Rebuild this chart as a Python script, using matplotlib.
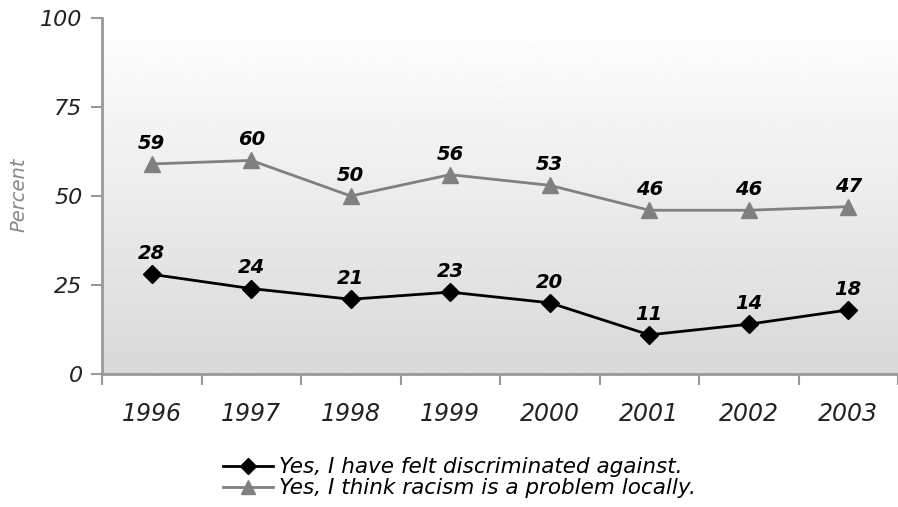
import numpy as np
import matplotlib.pyplot as plt
from matplotlib.lines import Line2D

years = ["1996", "1997", "1998", "1999", "2000", "2001", "2002", "2003"]
discriminated = [28, 24, 21, 23, 20, 11, 14, 18]
racism_local = [59, 60, 50, 56, 53, 46, 46, 47]
yticks = [0, 25, 50, 75, 100]

fig = plt.figure(figsize=(8.98, 5.07), dpi=100)
ax = fig.add_axes([0.1136, 0.2623, 0.8864, 0.7022])

# gradient background, white at the top to light grey at the bottom
grad = np.linspace(1.0, 0.85, 256).reshape(-1, 1)
ax.imshow(grad, extent=[0, 1, 0, 1], transform=ax.transAxes, cmap="gray",
          vmin=0, vmax=1, aspect="auto", zorder=0)

x = np.arange(len(years))
ax.plot(x, racism_local, color="#808080", lw=2, marker="^", ms=11, zorder=3)
ax.plot(x, discriminated, color="black", lw=2, marker="D", ms=9, zorder=3)

for series in (racism_local, discriminated):
    for xi, v in zip(x, series):
        ax.annotate(str(v), (xi, v), xytext=(0, 8), textcoords="offset points",
                    ha="center", va="bottom", fontsize=14, style="italic",
                    fontweight="semibold", color="black")

ax.set_xlim(-0.5, len(years) - 0.5)
ax.set_ylim(0, 100)
ax.set_yticks(yticks)
ax.set_yticklabels([str(t) for t in yticks], fontsize=16, style="italic",
                   color="#222222")
ax.set_xticks(np.arange(len(years) + 1) - 0.5)
ax.set_xticklabels([])
ax.set_xticks(x, minor=True)
ax.set_xticklabels(years, minor=True, fontsize=17, style="italic",
                   color="#222222")
ax.tick_params(axis="x", which="major", direction="out", length=8,
               width=1.5, color="#999999")
ax.tick_params(axis="x", which="minor", length=0, pad=20)
ax.tick_params(axis="y", direction="out", length=8, width=1.5,
               color="#999999", pad=6)

for side in ["top", "right"]:
    ax.spines[side].set_visible(False)
for side in ["left", "bottom"]:
    ax.spines[side].set_color("#999999")
    ax.spines[side].set_linewidth(2)

fig.text(0.021, 0.615, "Percent", rotation=90, ha="center", va="center",
         fontsize=14, style="italic", color="#888888")

handles = [
    Line2D([], [], color="black", lw=2, marker="D", ms=8),
    Line2D([], [], color="#808080", lw=2, marker="^", ms=10),
]
labels = ["Yes, I have felt discriminated against.",
          "Yes, I think racism is a problem locally."]
fig.legend(handles, labels, loc="center", bbox_to_anchor=(0.512, 0.058),
           frameon=False, prop={"style": "italic", "size": 15.5},
           handlelength=2.3, handletextpad=0.3, labelspacing=0.05)

fig.savefig("out.png", dpi=100)
